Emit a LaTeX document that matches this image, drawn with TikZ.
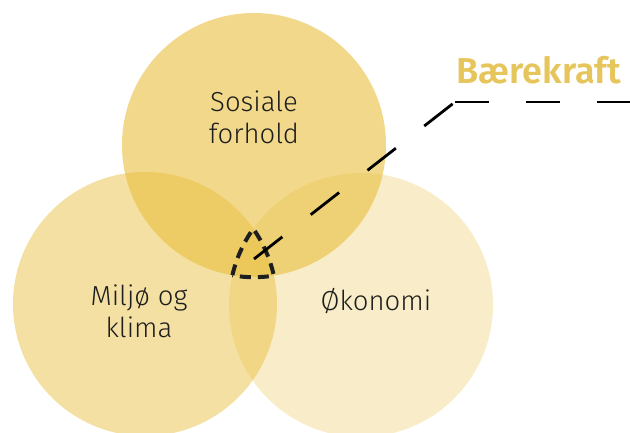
\documentclass[tikz,border=0pt]{standalone}
\usepackage{fontspec}
\setmainfont{Fira Sans}
\newfontfamily\lightfont{Fira Sans Light}
\newfontfamily\semifont{Fira Sans SemiBold}
\definecolor{gold}{RGB}{232,190,60}
\definecolor{titlegold}{RGB}{230,198,92}
\definecolor{ink}{RGB}{30,30,30}
\begin{document}
\begin{tikzpicture}[x=1pt,y=1pt,
  venn/.style={circle, minimum size=264pt, inner sep=0pt, outer sep=0pt, fill=gold, draw=none},
  lbl/.style={font=\lightfont\fontsize{27.5}{32}\selectfont, text=ink, align=center},
  tri/.style={line width=4pt, dash pattern=on 11pt off 7pt, draw=ink},
  leader/.style={line width=2.8pt, draw=black},
]
\useasboundingbox (0,0) rectangle (630,432);
\node[venn, fill opacity=0.48] (L) at (145,128) {};
\node[venn, fill opacity=0.28] (R) at (361,127) {};
\node[venn, fill opacity=0.60] (T) at (254,287) {};
% triple intersection outline
\coordinate (C) at (232.4,156.8);
\draw[tri] (C) arc[start angle=166.95, end angle=144.7, radius=132]
  arc[start angle=34.9, end angle=12.5, radius=132]
  arc[start angle=-81.3, end angle=-99.4, radius=132];
% labels
\node[lbl] (soc) at (254,315) {Sosiale\\forhold};
\node[lbl] (env) at (139,121) {Miljø og\\klima};
\node[lbl] (eco) at (376,131) {Økonomi};
\node[font=\semifont\fontsize{36}{40}\selectfont, text=titlegold] (sus) at (539,362) {Bærekraft};
% leader line
\coordinate (p0) at (254,173);
\coordinate (p1) at (455,330);
\coordinate (p2) at (630,330);
\draw[leader, dash pattern=on 36pt off 36pt] (p0) -- (p1);
\draw[leader, dash pattern=on 34pt off 37pt] (p1) -- (p2);
\end{tikzpicture}
\end{document}
